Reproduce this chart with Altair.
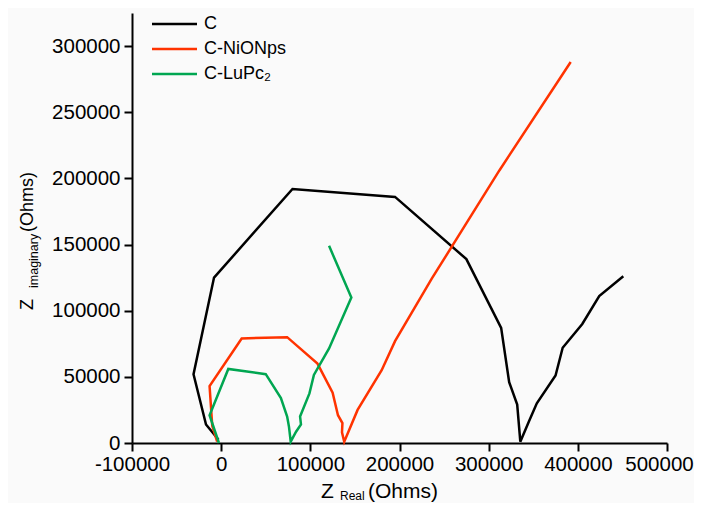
import altair as alt
import pandas as pd

# ---------------- data ----------------
series_names = ["C", "C-NiONps", "C-LuPc₂"]
series_colors = ["#000000", "#ff3300", "#00a651"]

c_re = [-3000, -17000, -31000, -8000, 80000, 195000, 275000, 314000, 323000,
        332000, 335500, 345000, 354000, 375000, 383000, 405000, 424000, 451000]
c_im = [2500, 14000, 52000, 125000, 192000, 186000, 139000, 87000, 46000,
        29000, 1000, 16000, 30000, 51000, 72000, 90000, 111000, 126000]

ni_re = [-4500, -10000, -13000, 23000, 74000, 108000, 125000, 131000, 136000,
         135500, 138000, 153000, 180000, 195000, 236000, 312000, 392000]
ni_im = [1000, 13000, 43000, 79000, 80000, 60000, 38000, 21000, 15000,
         8000, 1000, 25000, 55000, 77000, 124000, 206000, 288000]

lu_re = [-2500, -13000, 8000, 50000, 67000, 74000, 76000, 78000, 84000, 89500,
         88500, 99000, 104000, 121000, 146000, 121000]
lu_im = [0, 21000, 56000, 52000, 34000, 20000, 12500, 1000, 8500, 14000,
         20000, 37500, 51500, 71500, 110000, 149000]

x_ticks = [-100000, 0, 100000, 200000, 300000, 400000, 500000]
y_ticks = [0, 50000, 100000, 150000, 200000, 250000, 300000]

x_title_parts = ["Z", "Real", "(Ohms)"]
y_title_parts = ["Z", "imaginary", "(Ohms)"]

FONT = "Liberation Sans"

rows = []
for name, xs, ys in zip(series_names, [c_re, ni_re, lu_re], [c_im, ni_im, lu_im]):
    for i, (xv, yv) in enumerate(zip(xs, ys)):
        rows.append({"series": name, "idx": i, "zr": xv, "zi": yv})
df = pd.DataFrame(rows)

lines = alt.Chart(df).mark_line(strokeWidth=2.5, strokeJoin="miter").encode(
    x=alt.X("zr:Q",
            scale=alt.Scale(domain=[-100000, 500000], nice=False, zero=False),
            axis=alt.Axis(values=x_ticks, title=None, labelExpr="'' + datum.value",
                          labelOverlap=False, labelFlush=False, labelPadding=3,
                          labelOffset={"expr": "datum.value == 500000 ? -8 : 0"})),
    y=alt.Y("zi:Q",
            scale=alt.Scale(domain=[0, 325000], nice=False, zero=False),
            axis=alt.Axis(values=y_ticks, title=None, labelExpr="'' + datum.value",
                          labelOverlap=False, labelFlush=False, labelPadding=4)),
    color=alt.Color("series:N",
                    scale=alt.Scale(domain=series_names, range=series_colors),
                    legend=None),
    detail="series:N",
    order="idx:Q",
)

layers = [lines]

# legend (top-left, inside plot)
for i, (name, col) in enumerate(zip(series_names, series_colors)):
    ld = pd.DataFrame({"label": [name]})
    layers.append(alt.Chart(ld).mark_rule(color=col, strokeWidth=2.5).encode(
        x=alt.value(20), x2=alt.value(65), y=alt.value(11 + 25 * i)))
    layers.append(alt.Chart(ld).mark_text(
        align="left", baseline="middle", fontSize=18, font=FONT, color="black"
    ).encode(x=alt.value(72), y=alt.value(11 + 25 * i), text="label:N"))

# x-axis title with subscript
xt = pd.DataFrame({"t": x_title_parts})
layers.append(alt.Chart(xt.iloc[[0]]).mark_text(
    align="left", baseline="alphabetic", fontSize=21, font=FONT, color="black"
).encode(x=alt.value(189), y=alt.value(485), text="t:N"))
layers.append(alt.Chart(xt.iloc[[1]]).mark_text(
    align="left", baseline="alphabetic", fontSize=12, font=FONT, color="black"
).encode(x=alt.value(208), y=alt.value(487), text="t:N"))
layers.append(alt.Chart(xt.iloc[[2]]).mark_text(
    align="left", baseline="alphabetic", fontSize=21, font=FONT, color="black"
).encode(x=alt.value(236), y=alt.value(485), text="t:N"))

# y-axis title with subscript (rotated)
yt = pd.DataFrame({"t": y_title_parts})
layers.append(alt.Chart(yt.iloc[[0]]).mark_text(
    align="left", baseline="alphabetic", fontSize=18, font=FONT, color="black", angle=270
).encode(x=alt.value(-99), y=alt.value(297), text="t:N"))
layers.append(alt.Chart(yt.iloc[[1]]).mark_text(
    align="left", baseline="alphabetic", fontSize=12.5, font=FONT, color="black", angle=270
).encode(x=alt.value(-94), y=alt.value(275), text="t:N"))
layers.append(alt.Chart(yt.iloc[[2]]).mark_text(
    align="left", baseline="alphabetic", fontSize=18, font=FONT, color="black", angle=270
).encode(x=alt.value(-99), y=alt.value(219), text="t:N"))

chart = alt.layer(*layers).properties(
    width=535,
    height=430,
    autosize=alt.AutoSizeParams(type="none"),
    padding={"left": 124, "top": 5, "right": 27, "bottom": 60},
    background="#fafafa",
).configure_view(stroke=None).configure_axis(
    grid=False,
    domainColor="black",
    domainWidth=2,
    tickColor="black",
    tickWidth=2,
    tickSize=8,
    labelFont=FONT,
    labelFontSize=20.5,
    labelColor="black",
)

chart.save("out.html", embed_options={"renderer": "svg", "actions": False})
